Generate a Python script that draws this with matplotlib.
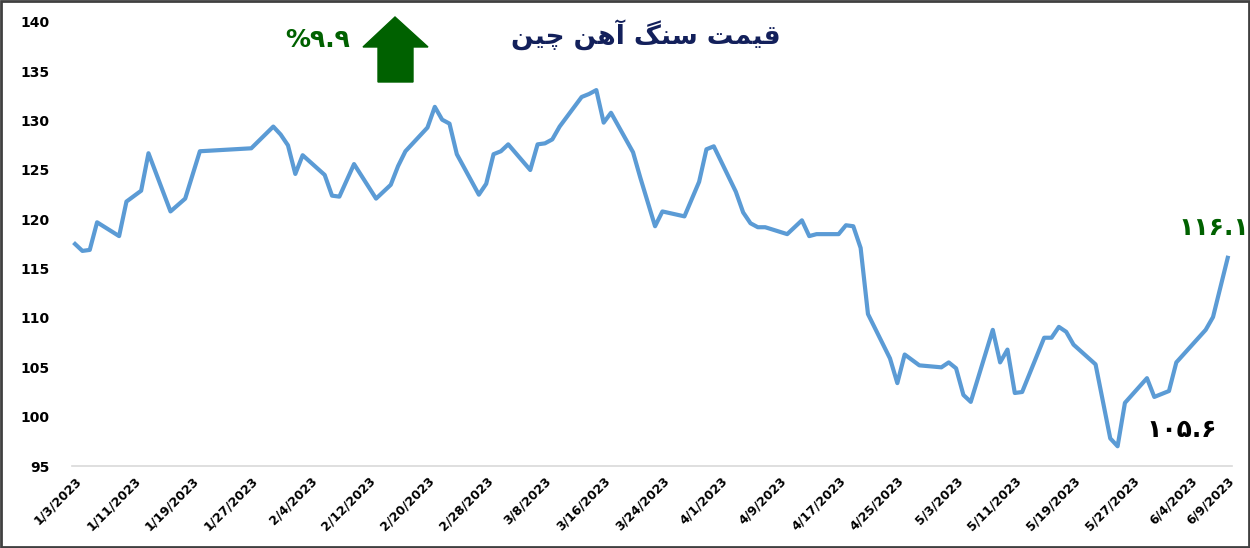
import matplotlib
matplotlib.use('Agg')
import matplotlib.pyplot as plt
from matplotlib.patches import Polygon, Rectangle
import pandas as pd

# Iron ore price, China (trading days)
dates = [
    '2023-01-03', '2023-01-04', '2023-01-05', '2023-01-06', '2023-01-09', '2023-01-10',
    '2023-01-12', '2023-01-13', '2023-01-16', '2023-01-18', '2023-01-20', '2023-01-27',
    '2023-01-30', '2023-01-31', '2023-02-01', '2023-02-02', '2023-02-03', '2023-02-06',
    '2023-02-07', '2023-02-08', '2023-02-10', '2023-02-13', '2023-02-15', '2023-02-16',
    '2023-02-17', '2023-02-20', '2023-02-21', '2023-02-22', '2023-02-23', '2023-02-24',
    '2023-02-27', '2023-02-28', '2023-03-01', '2023-03-02', '2023-03-03', '2023-03-06',
    '2023-03-07', '2023-03-08', '2023-03-09', '2023-03-10', '2023-03-13', '2023-03-14',
    '2023-03-15', '2023-03-16', '2023-03-17', '2023-03-20', '2023-03-21', '2023-03-23',
    '2023-03-24', '2023-03-27', '2023-03-29', '2023-03-30', '2023-03-31', '2023-04-03',
    '2023-04-04', '2023-04-05', '2023-04-06', '2023-04-07', '2023-04-10', '2023-04-12',
    '2023-04-13', '2023-04-14', '2023-04-17', '2023-04-18', '2023-04-19', '2023-04-20',
    '2023-04-21', '2023-04-24', '2023-04-25', '2023-04-26', '2023-04-28', '2023-05-01',
    '2023-05-02', '2023-05-03', '2023-05-04', '2023-05-05', '2023-05-08', '2023-05-09',
    '2023-05-10', '2023-05-11', '2023-05-12', '2023-05-15', '2023-05-16', '2023-05-17',
    '2023-05-18', '2023-05-19', '2023-05-22', '2023-05-24', '2023-05-25', '2023-05-26',
    '2023-05-29', '2023-05-30', '2023-06-01', '2023-06-02', '2023-06-06', '2023-06-07',
    '2023-06-09',
]
prices = [
    117.5, 116.8, 116.9, 119.7, 118.3, 121.8,
    122.9, 126.7, 120.8, 122.1, 126.9, 127.2,
    129.4, 128.6, 127.5, 124.6, 126.5, 124.5,
    122.4, 122.3, 125.6, 122.1, 123.5, 125.4,
    126.9, 129.3, 131.4, 130.1, 129.7, 126.6,
    122.5, 123.6, 126.6, 126.9, 127.6, 125.0,
    127.6, 127.7, 128.1, 129.4, 132.4, 132.7,
    133.1, 129.8, 130.8, 126.8, 124.2, 119.3,
    120.8, 120.3, 123.8, 127.1, 127.4, 122.8,
    120.7, 119.6, 119.2, 119.2, 118.5, 119.9,
    118.3, 118.5, 118.5, 119.4, 119.3, 117.1,
    110.4, 105.9, 103.4, 106.3, 105.2, 105.0,
    105.5, 104.9, 102.2, 101.5, 108.8, 105.5,
    106.8, 102.4, 102.5, 108.0, 108.0, 109.1,
    108.6, 107.3, 105.3, 97.8, 97.0, 101.4,
    103.9, 102.0, 102.6, 105.5, 108.8, 110.1,
    116.1,
]
tick_dates = pd.date_range('2023-01-03', '2023-06-09', freq='8D').tolist() + [pd.Timestamp('2023-06-09')]

title_text = 'قیمت سنگ آهن چین'
change_text = '%۹.۹'      # already in display order
last_text = '۱۱۶.۱'
low_text = '۱۰۵.۶'

# --- minimal Persian shaping (matplotlib has no bidi / joining support) ---
forms = {
    'ق': ('\uFED5', '\uFED6', '\uFED7', '\uFED8'),
    'ی': ('\uFBFC', '\uFBFD', '\uFBFE', '\uFBFF'),
    'م': ('\uFEE1', '\uFEE2', '\uFEE3', '\uFEE4'),
    'ت': ('\uFE95', '\uFE96', '\uFE97', '\uFE98'),
    'س': ('\uFEB1', '\uFEB2', '\uFEB3', '\uFEB4'),
    'ن': ('\uFEE5', '\uFEE6', '\uFEE7', '\uFEE8'),
    'گ': ('\uFB92', '\uFB93', '\uFB94', '\uFB95'),
    'ه': ('\uFEE9', '\uFEEA', '\uFEEB', '\uFEEC'),
    'چ': ('\uFB7A', '\uFB7B', '\uFB7C', '\uFB7D'),
    'آ': ('\uFE81', '\uFE82', None, None),
}

def dual(c):
    return c in forms and forms[c][2] is not None

def shape(text):
    out = []
    for i, c in enumerate(text):
        if c not in forms:
            out.append(c)
            continue
        prev = text[i - 1] if i > 0 else ''
        nxt = text[i + 1] if i + 1 < len(text) else ''
        jp = dual(prev)
        jn = dual(c) and nxt in forms
        if jp and jn:
            out.append(forms[c][3])
        elif jp:
            out.append(forms[c][1])
        elif jn:
            out.append(forms[c][2])
        else:
            out.append(forms[c][0])
    return ''.join(out)[::-1]

plt.rcParams['font.family'] = ['DejaVu Sans']

fig = plt.figure(figsize=(12.5, 5.48), dpi=100)
ax = fig.add_axes([72 / 1250, 1 - 466 / 548, 1160 / 1250, 444 / 548])

x = pd.to_datetime(dates)
ax.plot(x, prices, color='#5B9BD5', linewidth=3.0, solid_joinstyle='round')

ax.set_ylim(95, 140)
ax.set_yticks(range(95, 141, 5))
ax.set_xlim(pd.Timestamp('2023-01-03') - pd.Timedelta(hours=10),
            pd.Timestamp('2023-06-09') + pd.Timedelta(hours=14))
ax.set_xticks(tick_dates)
ax.set_xticklabels([f'{d.month}/{d.day}/{d.year}' for d in tick_dates],
                   rotation=45, ha='right', rotation_mode='anchor',
                   fontsize=9, fontweight='bold')
ax.tick_params(axis='x', length=0, pad=6)
ax.tick_params(axis='y', length=0, pad=16, labelsize=10)
for lab in ax.get_yticklabels():
    lab.set_fontweight('bold')

for s in ['top', 'right', 'left']:
    ax.spines[s].set_visible(False)
ax.spines['bottom'].set_color('#D9D9D9')
ax.spines['bottom'].set_linewidth(1.2)

# texts
fig.text(646 / 1250, 1 - 35 / 548, shape(title_text), fontsize=19, fontweight='bold',
         color='#13205B', ha='center', va='center')
fig.text(318 / 1250, 1 - 40 / 548, change_text, fontsize=18, fontweight='bold',
         color='#006100', ha='center', va='center')
fig.text(1214 / 1250, 1 - 228 / 548, last_text, fontsize=18, fontweight='bold',
         color='#006100', ha='center', va='center')
fig.text(1182 / 1250, 1 - 430 / 548, low_text, fontsize=18, fontweight='bold',
         color='black', ha='center', va='center')

# up arrow
arrow = [(363, 47), (395, 17), (428, 47), (413, 47), (413, 82), (378, 82), (378, 47)]
fig.patches.append(Polygon([(px / 1250, 1 - py / 548) for px, py in arrow], closed=True,
                           transform=fig.transFigure, facecolor='#006100', edgecolor='#006100'))

# outer frame
fig.patches.append(Rectangle((0.001, 0.002), 0.998, 0.996, transform=fig.transFigure,
                             fill=False, edgecolor='#404040', linewidth=2))

fig.savefig('out.png', dpi=100)
